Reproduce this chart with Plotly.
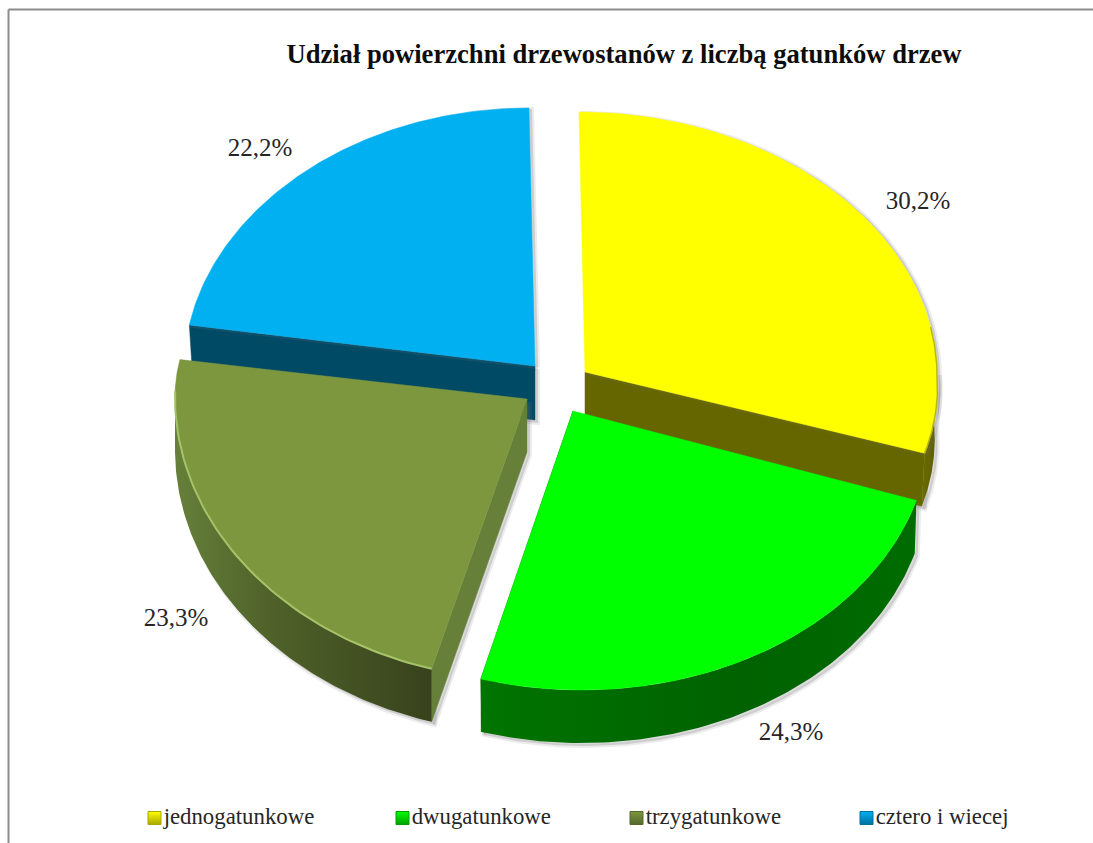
import numpy as np
import plotly.graph_objects as go

# --- data ---
categories = ["jednogatunkowe", "dwugatunkowe", "trzygatunkowe", "cztero i wiecej"]
shares = [30.2, 24.3, 23.3, 22.2]
title_text = "Udział powierzchni drzewostanów z liczbą gatunków drzew"

# --- styles / layout constants (pixel space of the figure) ---
W, H = 1093, 843
FONT = "Liberation Serif"
top_colors = ["#ffff00", "#00ff00", "#7c973e", "#00b0f0"]
radial_colors = ["#666600", "#006600", "#66803a", "#004a66"]
wall_scales = [
    [[0, "#6b6b00"], [1, "#5c5c00"]],
    [[0, "#007400"], [0.6, "#006200"], [1, "#006c00"]],
    [[0, "#66803a"], [0.35, "#50632a"], [1, "#38421c"]],
    [[0, "#004a66"], [1, "#004a66"]],
]
apex_x = [585, 573, 527, 535]
apex_y = [372, 411, 399, 366]
rx = [352, 358, 352, 350]
ry_up = [260, 260, 225, 258]
ry_down = [253, 279, 281, 279]
up_power = [1, 1, 1, 1.056]
skew = [6, 8, 3, 6]
bulge = [14, 6, 0, 0]
depth = [53, 53, 53, 54]
lower_scale = [0.992, 0.995, 1.0, 0.99]
# part of each rim that carries a thin edge line (degrees from the top), None = no line
edge_spans = [(80, 108.7, "#b9b900", 1.5), None, (196.2, 272, "#a5c36a", 2), None]
label_x = [918, 791, 176, 260]
label_y = [203, 734, 620, 150]
legend_x = [154.5, 402.5, 636.5, 866.5]
legend_y = 818
swatch_dark = ["#a8a800", "#00a000", "#55682c", "#0070a0"]

edges = np.radians(np.concatenate([[0], np.cumsum(shares)]) * 3.6)


def rim(i, th, dy=0.0, scale=1.0):
    c, s = np.cos(th), np.sin(th)
    yy = np.where(c > 0,
                  ry_up[i] * np.abs(c) ** up_power[i],
                  -ry_down[i] * np.abs(c))
    xx = rx[i] * s - skew[i] * c + bulge[i] * np.clip(s, 0, None) * np.clip(-c, 0, None)
    return apex_x[i] + scale * xx, apex_y[i] - yy + dy


fig = go.Figure()


def poly(x, y, **kw):
    fig.add_trace(go.Scatter(x=list(x), y=list(y), mode="lines", fill="toself",
                             hoverinfo="skip", showlegend=False, **kw))


def shadow(x, y, dx=3, dy=3):
    x, y = np.asarray(x) + dx, np.asarray(y) + dy
    poly(x, y, fillcolor="rgba(90,90,90,0.22)",
         line=dict(color="rgba(120,120,120,0.14)", width=4))


for i in [3, 0, 2, 1]:
    t0, t1 = edges[i], edges[i + 1]
    th = np.linspace(t0, t1, 120)
    xt, yt = rim(i, th)
    d = depth[i]
    s = lower_scale[i]

    # outer wall: the part of the rim that faces the viewer
    a0, a1 = max(t0, np.pi / 2), min(t1, 3 * np.pi / 2)
    has_wall = a1 > a0
    if has_wall:
        tw = np.linspace(a0, a1, 120)
        xu, yu = rim(i, tw)
        xl, yl = rim(i, tw, d, s)
        wx = np.concatenate([xu, xl[::-1], xu[:1]])
        wy = np.concatenate([yu, yl[::-1], yu[:1]])

    # radial wall visible at the cut of each sector
    rad_t = {0: t1, 1: t1, 2: t0, 3: t0}[i]
    xr, yr = rim(i, np.array([rad_t]))
    xb, yb = rim(i, np.array([rad_t]), d, s)
    rx_poly = [apex_x[i], xr[0], xb[0], apex_x[i], apex_x[i]]
    ry_poly = [apex_y[i], yr[0], yb[0], apex_y[i] + d, apex_y[i]]

    if has_wall:
        shadow(wx, wy)
    shadow(rx_poly, ry_poly)
    poly(rx_poly, ry_poly, fillcolor=radial_colors[i],
         line=dict(color=radial_colors[i], width=0.5))
    if has_wall:
        fig.add_trace(go.Scatter(
            x=wx, y=wy, mode="lines", fill="toself", hoverinfo="skip", showlegend=False,
            line=dict(width=0, color=radial_colors[i]),
            fillgradient=dict(type="horizontal", colorscale=wall_scales[i]),
        ))

    # top face
    fx = np.concatenate([[apex_x[i]], xt, [apex_x[i]]])
    fy = np.concatenate([[apex_y[i]], yt, [apex_y[i]]])
    if i in (0, 3):
        shadow(fx, fy, 3, 1)
    poly(fx, fy, fillcolor=top_colors[i], line=dict(color=top_colors[i], width=0.5))
    if edge_spans[i] is not None:
        a, b, col, wid = edge_spans[i]
        te = np.radians(np.linspace(a, b, 60))
        xe, ye = rim(i, te)
        fig.add_trace(go.Scatter(x=xe, y=ye, mode="lines", hoverinfo="skip", showlegend=False,
                                 line=dict(color=col, width=wid)))

# value labels
fig.add_trace(go.Scatter(
    x=label_x, y=label_y, mode="text",
    text=[f"{v:.1f}%".replace(".", ",") for v in shares],
    textfont=dict(family=FONT, size=25, color="#262626"),
    hoverinfo="skip", showlegend=False,
))

# legend row
for name, lx, col, dark in zip(categories, legend_x, top_colors, swatch_dark):
    fig.add_trace(go.Scatter(
        x=[lx], y=[legend_y], mode="markers+text", name=name,
        text=[name], textposition="middle right",
        textfont=dict(family=FONT, size=22.8, color="#262626"),
        marker=dict(symbol="square", size=13, color=col,
                    gradient=dict(type="vertical", color=dark),
                    line=dict(color=dark, width=1)),
        hoverinfo="skip", showlegend=False,
    ))

fig.update_layout(
    width=W, height=H, margin=dict(l=0, r=0, t=0, b=0),
    paper_bgcolor="white", plot_bgcolor="white", showlegend=False,
    title=dict(text=f"<b>{title_text}</b>", x=624 / W, xanchor="center",
               y=1 - 54 / H, yanchor="middle",
               font=dict(family=FONT, size=26.6, color="#0d0d0d")),
    xaxis=dict(range=[0, W], visible=False, fixedrange=True),
    yaxis=dict(range=[H, 0], visible=False, fixedrange=True),
    shapes=[
        dict(type="line", xref="x", yref="y", x0=8.5, x1=W, y0=9.5, y1=9.5,
             line=dict(color="#8c8c8c", width=2)),
        dict(type="line", xref="x", yref="y", x0=8.5, x1=8.5, y0=9.5, y1=H,
             line=dict(color="#8c8c8c", width=2)),
    ],
)

fig.write_html("out.html", config=dict(displayModeBar=False),
               post_script="document.body.style.margin='0';document.documentElement.style.overflow='hidden';")
